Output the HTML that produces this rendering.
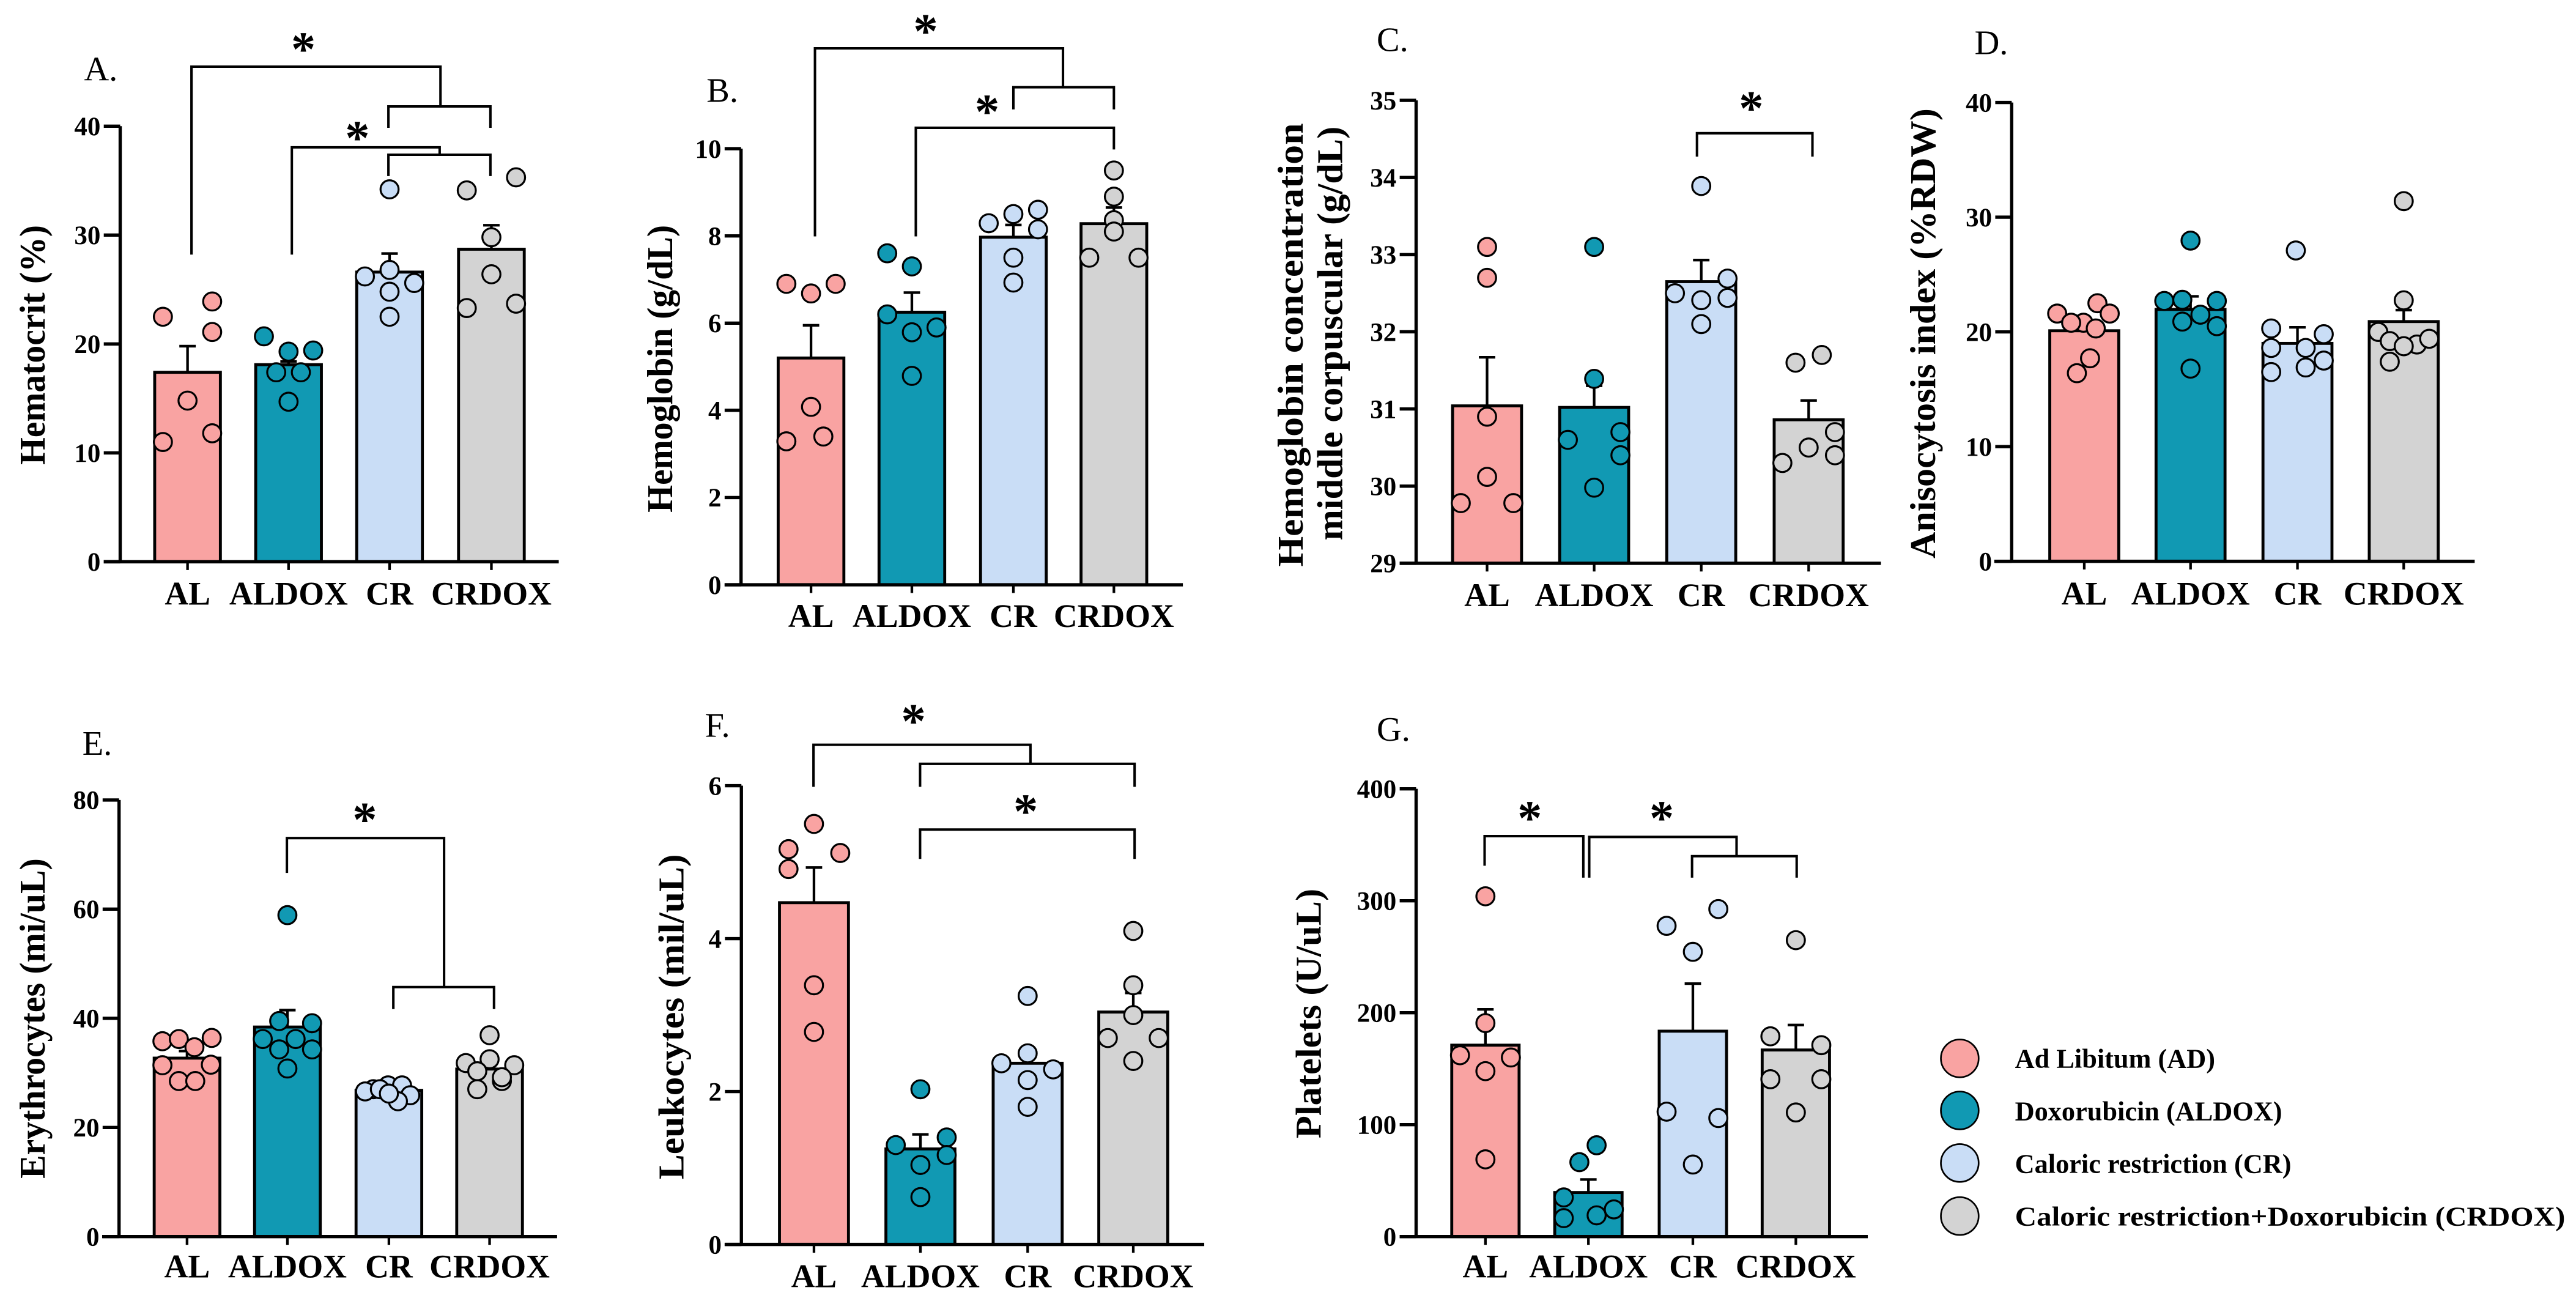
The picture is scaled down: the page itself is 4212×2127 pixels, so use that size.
<!DOCTYPE html>
<html><head><meta charset="utf-8"><style>
html,body{margin:0;padding:0;background:#fff;}
svg{display:block;}
text{font-family:"Liberation Serif",serif;fill:#000;}
</style></head><body>
<svg id="fig" xmlns="http://www.w3.org/2000/svg" width="4212" height="2127" viewBox="0 0 1568 792">
<rect width="1568" height="792" fill="#fff"/>
<g id="static" fill="none" stroke="#000" stroke-width="1.5">
  <!-- A brackets -->
  <path d="M116.4,155 V40.6 H268 V64.8"/>
  <path d="M236.3,77.8 V64.8 H298.4 V77.8"/>
  <path d="M177.5,155 V89.7 H267.5 V94.2"/>
  <path d="M236.3,107.2 V94.2 H298.4 V107.2"/>
  <!-- B -->
  <path d="M496,143.9 V29.4 H647 V53.1"/>
  <path d="M616.8,66.6 V53.1 H678 V66.6"/>
  <path d="M557.4,143.9 V77.8 H678 V91"/>
  <!-- C -->
  <path d="M1033,95.3 V81.1 H1103.3 V95.3"/>
  <!-- E -->
  <path d="M174.5,531.4 V510.2 H270.2 V600.9"/>
  <path d="M239.3,614.3 V600.9 H300.6 V614.3"/>
  <!-- F -->
  <path d="M495.1,479 V453.4 H627.2 V465"/>
  <path d="M560,479 V465 H690.6 V479"/>
  <path d="M560,522.9 V505 H690.6 V522.9"/>
  <!-- G -->
  <path d="M903.7,527 V509 H963.8 V534.3"/>
  <path d="M967.4,534.3 V509.5 H1057.1 V521.2"/>
  <path d="M1030,534.3 V521.2 H1093.7 V534.3"/>
</g>
<g font-weight="bold" font-size="30" text-anchor="middle">
  <text x="184.5" y="40">*</text>
  <text x="217.4" y="94">*</text>
  <text x="563.4" y="29">*</text>
  <text x="600.8" y="78">*</text>
  <text x="1066" y="76">*</text>
  <text x="221.9" y="509">*</text>
  <text x="556" y="449">*</text>
  <text x="624.3" y="504">*</text>
  <text x="931.2" y="508">*</text>
  <text x="1011.5" y="508">*</text>
</g>
<g font-size="21">
  <text x="51" y="49">A.</text>
  <text x="430" y="62">B.</text>
  <text x="838" y="31">C.</text>
  <text x="1202" y="33">D.</text>
  <text x="50" y="459.5">E.</text>
  <text x="429" y="448.5">F.</text>
  <text x="838" y="451">G.</text>
</g>
<g font-size="22" font-weight="bold" text-anchor="middle">
  <text transform="translate(27,210) rotate(-90)" textLength="146" lengthAdjust="spacingAndGlyphs">Hematocrit (%)</text>
  <text transform="translate(409,224.5) rotate(-90)" textLength="175" lengthAdjust="spacingAndGlyphs">Hemoglobin (g/dL)</text>
  <text transform="translate(793,210) rotate(-90)" textLength="270" lengthAdjust="spacingAndGlyphs">Hemoglobin concentration</text>
  <text transform="translate(817,203) rotate(-90)" textLength="252" lengthAdjust="spacingAndGlyphs">middle corpuscular (g/dL)</text>
  <text transform="translate(1178,203) rotate(-90)" textLength="274" lengthAdjust="spacingAndGlyphs">Anisocytosis index (%RDW)</text>
  <text transform="translate(27,620) rotate(-90)" textLength="195" lengthAdjust="spacingAndGlyphs">Erythrocytes (mi/uL)</text>
  <text transform="translate(416,619) rotate(-90)" textLength="198" lengthAdjust="spacingAndGlyphs">Leukocytes (mil/uL)</text>
  <text transform="translate(804,617) rotate(-90)" textLength="152" lengthAdjust="spacingAndGlyphs">Platelets (U/uL)</text>
</g>
<g id="legend" font-size="16.5" font-weight="bold">
  <g><circle cx="1193" cy="644.3" r="11.5" fill="#F9A3A2" stroke="#000" stroke-width="1"/><text x="1226.6" y="650">Ad Libitum (AD)</text></g>
  <g><circle cx="1193" cy="676" r="11.5" fill="#1199B3" stroke="#000" stroke-width="1"/><text x="1226.6" y="682">Doxorubicin (ALDOX)</text></g>
  <g><circle cx="1193" cy="708" r="11.5" fill="#C9DDF6" stroke="#000" stroke-width="1"/><text x="1226.6" y="714">Caloric restriction (CR)</text></g>
  <g><circle cx="1193" cy="740.3" r="11.5" fill="#D3D3D3" stroke="#000" stroke-width="1"/><text x="1226.6" y="746" textLength="335" lengthAdjust="spacingAndGlyphs">Caloric restriction+Doxorubicin (CRDOX)</text></g>
</g>
<g id="charts"></g>
</svg>
<script>
const categories = ["AL","ALDOX","CR","CRDOX"];
const colors = ["#F9A3A2","#1199B3","#C9DDF6","#D3D3D3"];

// A Hematocrit
const barsA = [17.4, 18.1, 26.6, 28.7];
const errA = [19.8, 18.4, 28.3, 30.9];
const ptsA = [[22.5,23.9,21.1,14.8,11.0,11.8],[20.7,19.3,19.4,17.4,17.4,14.7],[34.2,26.2,26.8,25.6,24.8,22.5],[34.1,35.3,29.8,26.4,23.3,23.7]];
const ticksA = [0,10,20,30,40];
// B Hemoglobin
const barsB = [5.2, 6.25, 7.97, 8.28];
const errB = [5.95, 6.7, 8.25, 8.65];
const ptsB = [[6.9,6.68,6.9,4.08,3.29,3.4],[7.6,7.3,6.2,5.79,5.9,4.79],[8.29,8.5,8.6,8.15,7.5,6.93],[9.5,8.9,8.36,8.1,7.5,7.5]];
const ticksB = [0,2,4,6,8,10];
// C MCHC
const barsC = [31.04, 31.02, 32.65, 30.86];
const errC = [31.67, 31.3, 32.93, 31.11];
const ptsC = [[33.1,32.7,30.9,30.12,29.78,29.78],[33.1,31.39,30.6,30.7,30.4,29.98],[33.89,32.5,32.69,32.41,32.44,32.1],[31.6,31.7,30.5,30.3,30.7,30.4]];
const ticksC = [29,30,31,32,33,34,35];
// D RDW
const barsD = [20.1, 21.96, 19.0, 20.9];
const errD = [20.8, 23.1, 20.4, 21.9];
const ptsD = [[21.6,20.8,22.5,21.6,20.8,20.3,17.7,16.4],[27.96,22.7,22.8,22.7,21.5,20.9,20.5,16.8],[27.1,20.3,19.8,18.6,18.6,17.5,16.9,16.5],[31.4,22.75,20.0,19.2,18.9,19.4,18.75,17.4]];
const ticksD = [0,10,20,30,40];
// E Erythrocytes
const barsE = [32.7, 38.4, 26.8, 30.7];
const errE = [34.0, 41.5, 27.7, 31.8];
const ptsE = [[35.8,36.2,36.4,34.7,31.4,31.5,28.5,28.5],[58.9,39.5,39.1,36.2,36.2,34.3,34.3,30.8],[27.0,27.7,27.7,26.6,27.0,25.9,24.8,26.2],[36.9,32.5,31.8,31.4,30.3,28.5,27.0,29.2]];
const ticksE = [0,20,40,60,80];
// F Leukocytes
const barsF = [4.47, 1.25, 2.37, 3.04];
const errF = [4.93, 1.44, 2.45, 3.29];
const ptsF = [[5.5,5.17,5.12,4.91,3.39,2.78],[2.03,1.3,1.4,1.04,1.17,0.62],[3.25,2.5,2.37,2.29,2.15,1.8],[4.1,3.39,3.0,2.7,2.7,2.4]];
const ticksF = [0,2,4,6];
// G Platelets
const barsG = [171, 39.4, 183.5, 166.7];
const errG = [203, 51, 226, 189];
const ptsG = [[304,190.7,162,160,147.8,69],[81.6,66.5,35,24.3,16.5,19],[292.6,277.6,254.4,111.6,105.9,64.4],[264.8,178.9,171,140.6,140.6,110.9]];
const ticksG = [0,100,200,300,400];

// layout (pixel offsets for scattered points; not data)
const layouts = {
 A:{ax:73,y0:342,yTop:76.8,min:0,max:40,cx:[114,175.5,237,299],bw:40,x1:63,x2:340,lab:368,
    jit:[[-15,15,15,0,-15,15],[-15,0,15,-7.5,7.5,0],[0,-15,0,15,0,0],[-15,15,0,0,-15,15]]},
 B:{ax:451,y0:356,yTop:90.5,min:0,max:10,cx:[493.6,555,616.8,678],bw:40,x1:441,x2:720,lab:381.6,
    jit:[[-15,0,15,0,-15,7.5],[-15,0,-15,0,15,0],[-15,0,15,15,0,0],[0,0,0,0,-15,15]]},
 C:{ax:862,y0:342.9,yTop:61.1,min:29,max:35,cx:[905.2,970.4,1035.6,1101],bw:42,x1:852,x2:1145,lab:369,
    jit:[[0,0,0,0,-16,16],[0,0,-16,16,16,0],[0,-16,16,0,16,0],[-8,8,0,-16,16,16]]},
 D:{ax:1224.6,y0:341.7,yTop:62.4,min:0,max:40,cx:[1268.8,1333.5,1398.6,1463.3],bw:42,x1:1214,x2:1506.5,lab:368,
    jit:[[-16.5,-0.5,8,15.5,-8,7,3.5,-4.5],[0,-16,-5,16,6,-5,16,0],[-1,-16,16,5,-16,16,5,-16],[0,0,-15.5,-8.5,8,15.5,0,-8.5]]},
 E:{ax:72.3,y0:752.8,yTop:487,min:0,max:80,cx:[113.7,174.8,236.6,297.9],bw:40,x1:62,x2:339,lab:777.6,
    jit:[[-15,-5,15,4.5,-15,14.5,-5,5],[0,-5,15,-15,5,-5,15,0],[-9.5,-0.5,8,-14.5,-5.5,13,5.5,0],[0,0,-14.5,15,-7.5,7.5,-7.5,7.5]]},
 F:{ax:451.2,y0:757.6,yTop:478.3,min:0,max:6,cx:[495.4,560.2,625.5,689.8],bw:42,x1:441,x2:733,lab:783.7,
    jit:[[0,-15.5,16,-15.5,0,0],[0,-15,16,0,16,0],[0,0,-16,15.5,0,0],[0,0,0,-15.5,15.5,0]]},
 G:{ax:862,y0:752.8,yTop:480.2,min:0,max:400,cx:[904.2,966.9,1030.5,1093.2],bw:41,x1:852,x2:1137,lab:777.6,
    jit:[[0,0,-15.5,15.5,0,0],[5,-5.5,-15,15.5,-15,5],[15.5,-16,0,-16,15.5,0],[0,-15.5,15.5,-15.5,15.5,0]]}
};
const panels = [
 ["A",barsA,errA,ptsA,ticksA],["B",barsB,errB,ptsB,ticksB],["C",barsC,errC,ptsC,ticksC],
 ["D",barsD,errD,ptsD,ticksD],["E",barsE,errE,ptsE,ticksE],["F",barsF,errF,ptsF,ticksF],["G",barsG,errG,ptsG,ticksG]
];
const NS="http://www.w3.org/2000/svg";
const root=document.getElementById("charts");
function mk(tag,attrs,parent){const e=document.createElementNS(NS,tag);for(const k in attrs)e.setAttribute(k,attrs[k]);parent.appendChild(e);return e;}
panels.forEach(([id,bars,errs,pts,ticks])=>{
  const L=layouts[id];
  const y=v=>L.y0-(v-L.min)/(L.max-L.min)*(L.y0-L.yTop);
  const g=mk("g",{},root);
  
  
  // bars
  bars.forEach((v,i)=>{
    const r=mk("rect",{x:L.cx[i]-L.bw/2,y:y(v),width:L.bw,height:L.y0-y(v),fill:colors[i],stroke:"#000","stroke-width":1.8},g);
    
    
    const e=mk("path",{d:`M${L.cx[i]},${y(v)} V${y(errs[i])} M${L.cx[i]-5},${y(errs[i])} H${L.cx[i]+5}`,stroke:"#000","stroke-width":1.6,fill:"none"},g);
    
    
  });
  // points
  pts.forEach((arr,i)=>{arr.forEach((v,j)=>{
    const c=mk("circle",{cx:L.cx[i]+L.jit[i][j],cy:y(v),r:5.5,fill:colors[i],stroke:"#000","stroke-width":1.2},g);
    
    
  });});
  // axes
  const ya=mk("line",{x1:L.ax,y1:L.y0,x2:L.ax,y2:L.yTop,stroke:"#000","stroke-width":2},g);
  
  
  const xa=mk("line",{x1:L.x1,y1:L.y0,x2:L.x2,y2:L.y0,stroke:"#000","stroke-width":2},g);
  
  
  ticks.forEach(t=>{
    mk("line",{x1:L.ax-10,y1:y(t),x2:L.ax,y2:y(t),stroke:"#000","stroke-width":2},g);
    const tl=mk("text",{x:L.ax-12,y:y(t)+5.5,"text-anchor":"end","font-size":16,"font-weight":"bold"},g);
    tl.textContent=t;
    
    
  });
  categories.forEach((c,i)=>{
    mk("line",{x1:L.cx[i],y1:L.y0,x2:L.cx[i],y2:L.y0+5,stroke:"#000","stroke-width":1.6},g);
    const xl=mk("text",{x:L.cx[i],y:L.lab,"text-anchor":"middle","font-size":20,"font-weight":"bold"},g);
    xl.textContent=c;
    
    
  });
});
</script>
</body></html>
